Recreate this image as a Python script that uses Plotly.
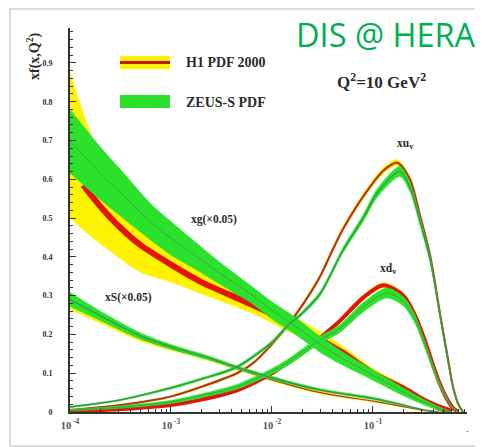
import plotly.graph_objects as go

W, H = 483, 447          # browser window
OFF = 8                  # default page body margin
FW, FH = W - OFF, H - OFF  # figure size so the page fits the window exactly

# ---------------- data ----------------
# gluon xg (x0.05) - ZEUS-S band
zeus_g_x = [1e-4, 2e-4, 3.16e-4, 6.3e-4, 1e-3, 2e-3, 3.16e-3, 6.3e-3, 1e-2, 1.58e-2, 3.16e-2, 5e-2, 0.1, 0.2, 0.316, 0.447, 0.6]
zeus_g_c = [0.698, 0.615, 0.565, 0.49, 0.448, 0.392, 0.355, 0.302, 0.262, 0.228, 0.17, 0.138, 0.095, 0.052, 0.026, 0.01, 0.0]
zeus_g_lo = [0.616, 0.547, 0.505, 0.443, 0.405, 0.359, 0.327, 0.280, 0.240, 0.206, 0.150, 0.121, 0.082, 0.042, 0.019, 0.006, 0.0]
zeus_g_hi = [0.780, 0.683, 0.625, 0.537, 0.491, 0.425, 0.383, 0.324, 0.284, 0.250, 0.190, 0.155, 0.108, 0.062, 0.033, 0.014, 0.001]

# gluon - H1 PDF 2000 band and central line
h1_g_x = [1e-4, 1.58e-4, 2.5e-4, 5e-4, 1e-3, 2e-3, 6.3e-3, 1.58e-2, 3.16e-2, 5e-2, 0.1, 0.2, 0.316, 0.447, 0.6]
h1_g_lo = [0.50, 0.455, 0.415, 0.36, 0.335, 0.305, 0.255, 0.203, 0.163, 0.136, 0.088, 0.05, 0.022, 0.006, 0.0]
h1_g_hi = [0.875, 0.72, 0.60, 0.50, 0.43, 0.37, 0.30, 0.248, 0.203, 0.17, 0.112, 0.07, 0.036, 0.016, 0.001]
h1_g_cx = [1.35e-4, 2e-4, 3.16e-4, 5e-4, 1e-3, 2e-3, 6.3e-3, 1.58e-2, 3.16e-2, 5e-2, 0.1, 0.2, 0.316, 0.447, 0.6]
h1_g_c = [0.585, 0.53, 0.475, 0.43, 0.38, 0.335, 0.277, 0.226, 0.183, 0.153, 0.10, 0.06, 0.03, 0.012, 0.0]

# sea xS (x0.05)
sea_x = [1e-4, 2e-4, 4.9e-4, 1e-3, 2.4e-3, 4.5e-3, 1e-2, 3e-2, 0.1, 0.2, 0.3, 0.45]
zeus_s_c = [0.29, 0.248, 0.197, 0.168, 0.139, 0.115, 0.088, 0.057, 0.035, 0.018, 0.007, 0.0]
zeus_s_lo = [0.272, 0.236, 0.189, 0.162, 0.134, 0.111, 0.084, 0.054, 0.032, 0.016, 0.006, 0.0]
zeus_s_hi = [0.308, 0.260, 0.205, 0.174, 0.144, 0.119, 0.092, 0.060, 0.038, 0.020, 0.008, 0.001]
h1_s_c = [0.278, 0.238, 0.19, 0.164, 0.136, 0.112, 0.083, 0.05, 0.028, 0.014, 0.005, 0.0]
h1_s_lo = [0.265, 0.229, 0.184, 0.159, 0.132, 0.109, 0.080, 0.047, 0.026, 0.012, 0.004, 0.0]
h1_s_hi = [0.291, 0.247, 0.196, 0.169, 0.140, 0.115, 0.086, 0.053, 0.030, 0.016, 0.006, 0.001]

# valence xu_v
zeus_u_x = [1e-4, 3e-4, 1e-3, 2e-3, 4.5e-3, 1e-2, 1.4e-2, 2e-2, 3e-2, 5e-2, 8e-2, 0.11, 0.184, 0.232, 0.29, 0.37, 0.46, 0.55, 0.62, 0.7, 0.78]
zeus_u_c = [0.013, 0.03, 0.062, 0.085, 0.116, 0.18, 0.22, 0.255, 0.305, 0.415, 0.50, 0.564, 0.62, 0.58, 0.495, 0.39, 0.25, 0.135, 0.065, 0.02, 0.0]
zeus_u_hw = [0.002, 0.002, 0.003, 0.003, 0.004, 0.004, 0.005, 0.005, 0.006, 0.007, 0.009, 0.011, 0.013, 0.012, 0.011, 0.009, 0.007, 0.005, 0.003, 0.002, 0.001]
h1_u_x = [1e-4, 3e-4, 1e-3, 2e-3, 4.5e-3, 6.5e-3, 1e-2, 1.5e-2, 2.4e-2, 3e-2, 5e-2, 9.3e-2, 0.13, 0.173, 0.232, 0.29, 0.37, 0.46, 0.55, 0.62, 0.7, 0.78]
h1_u_c = [0.005, 0.017, 0.04, 0.065, 0.10, 0.126, 0.175, 0.23, 0.307, 0.35, 0.47, 0.58, 0.625, 0.643, 0.60, 0.51, 0.40, 0.255, 0.14, 0.065, 0.02, 0.0]
h1_u_hw = [0.001, 0.002, 0.002, 0.003, 0.003, 0.003, 0.004, 0.004, 0.005, 0.005, 0.006, 0.007, 0.008, 0.008, 0.008, 0.007, 0.006, 0.005, 0.004, 0.003, 0.002, 0.001]

# valence xd_v
zeus_d_x = [1e-4, 3e-4, 1e-3, 2e-3, 4.5e-3, 1e-2, 1.4e-2, 3e-2, 4.7e-2, 8e-2, 0.137, 0.2, 0.26, 0.32, 0.4, 0.46, 0.55, 0.62, 0.7]
zeus_d_c = [0.005, 0.012, 0.026, 0.042, 0.065, 0.105, 0.126, 0.186, 0.215, 0.27, 0.307, 0.285, 0.24, 0.18, 0.11, 0.07, 0.03, 0.01, 0.0]
zeus_d_hw = [0.002, 0.003, 0.004, 0.005, 0.006, 0.007, 0.008, 0.009, 0.010, 0.012, 0.013, 0.012, 0.011, 0.009, 0.007, 0.005, 0.003, 0.002, 0.001]
h1_d_x = [1e-4, 3e-4, 1e-3, 2e-3, 4.5e-3, 1e-2, 1.4e-2, 2.2e-2, 3.3e-2, 4.7e-2, 8e-2, 0.126, 0.2, 0.26, 0.32, 0.4, 0.46, 0.55, 0.62, 0.7]
h1_d_c = [0.002, 0.007, 0.018, 0.032, 0.056, 0.10, 0.125, 0.16, 0.20, 0.235, 0.295, 0.327, 0.30, 0.25, 0.19, 0.115, 0.072, 0.03, 0.01, 0.0]
h1_d_hw = [0.001, 0.002, 0.002, 0.003, 0.003, 0.004, 0.004, 0.005, 0.005, 0.006, 0.007, 0.007, 0.007, 0.006, 0.005, 0.004, 0.003, 0.002, 0.002, 0.001]

x_tick_vals = [1e-4, 1e-3, 1e-2, 1e-1]
x_tick_text = ["10<sup> -4</sup>", "10<sup> -3</sup>", "10<sup> -2</sup>", "10<sup> -1</sup>"]
y_tick_vals = [0, 0.1, 0.2, 0.3, 0.4, 0.5, 0.6, 0.7, 0.8, 0.9]
y_tick_text = ["0", "0.1", "0.2", "0.3", "0.4", "0.5", "0.6", "0.7", "0.8", "0.9"]

legend_labels = ["H1 PDF 2000", "ZEUS-S PDF"]

# ---------------- styles ----------------
YELLOW = "#fff200"
RED = "#e3140c"
BROWN = "#b8361e"
GREEN = "#2be12b"
DKGREEN = "#3f8f55"
SERIF = "Liberation Serif, Times New Roman, serif"

fig = go.Figure()


def band(x, lo, hi, color):
    fig.add_trace(go.Scatter(x=x, y=lo, mode="lines",
                             line=dict(width=0.5, color=color, shape="spline", smoothing=0.8),
                             hoverinfo="skip", showlegend=False))
    fig.add_trace(go.Scatter(x=x, y=hi, mode="lines",
                             line=dict(width=0.5, color=color, shape="spline", smoothing=0.8),
                             fill="tonexty", fillcolor=color, hoverinfo="skip", showlegend=False))


def line(x, y, color, width):
    fig.add_trace(go.Scatter(x=x, y=y, mode="lines",
                             line=dict(width=width, color=color, shape="spline", smoothing=0.8),
                             hoverinfo="skip", showlegend=False))


def pm(c, hw, s):
    return [a + s * b for a, b in zip(c, hw)]


# H1 yellow bands
band(h1_g_x, h1_g_lo, h1_g_hi, YELLOW)
band(sea_x, h1_s_lo, h1_s_hi, YELLOW)
band(h1_u_x, pm(h1_u_c, h1_u_hw, -1), pm(h1_u_c, h1_u_hw, 1), YELLOW)
band(h1_d_x, pm(h1_d_c, h1_d_hw, -1), pm(h1_d_c, h1_d_hw, 1), YELLOW)

# H1 central lines
line(h1_g_cx, h1_g_c, RED, 6)
line(sea_x, h1_s_c, BROWN, 1.2)
line(h1_u_x, h1_u_c, BROWN, 2.2)
line(h1_d_x, h1_d_c, RED, 4)

# ZEUS green bands
band(zeus_g_x, zeus_g_lo, zeus_g_hi, GREEN)
band(sea_x, zeus_s_lo, zeus_s_hi, GREEN)
band(zeus_u_x, pm(zeus_u_c, zeus_u_hw, -1), pm(zeus_u_c, zeus_u_hw, 1), GREEN)
band(zeus_d_x, pm(zeus_d_c, zeus_d_hw, -1), pm(zeus_d_c, zeus_d_hw, 1), GREEN)

# ZEUS central lines
line(zeus_g_x, zeus_g_c, DKGREEN, 0.7)
line(sea_x, zeus_s_c, DKGREEN, 1.2)
line(zeus_u_x, zeus_u_c, DKGREEN, 1.2)
line(zeus_d_x, zeus_d_c, DKGREEN, 0.7)


def px(v):
    """window pixel x -> paper fraction"""
    return (v - OFF) / FW


def py(v):
    """window pixel y -> paper fraction"""
    return 1 - (v - OFF) / FH


shapes = [
    # card border
    dict(type="rect", xref="paper", yref="paper", x0=px(10), x1=px(481), y0=py(446), y1=py(9),
         line=dict(color="#d0d0d0", width=1.5), fillcolor="white", layer="below"),
    # legend swatches
    dict(type="rect", xref="paper", yref="paper", x0=px(120), x1=px(170), y0=py(69), y1=py(56),
         line=dict(width=0), fillcolor=YELLOW),
    dict(type="line", xref="paper", yref="paper", x0=px(120), x1=px(170), y0=py(62.5), y1=py(62.5),
         line=dict(color="#c0180c", width=3)),
    dict(type="rect", xref="paper", yref="paper", x0=px(120), x1=px(170), y0=py(108), y1=py(95),
         line=dict(width=0), fillcolor=GREEN),
]

TXT = "#2a2a2a"
annotations = [
    dict(text=legend_labels[0], x=px(184), y=py(63), xanchor="left", yanchor="middle",
         font=dict(family=SERIF, size=14, color=TXT, weight="bold")),
    dict(text=legend_labels[1], x=px(184), y=py(102), xanchor="left", yanchor="middle",
         font=dict(family=SERIF, size=14, color=TXT, weight="bold")),
    dict(text="Q<sup>2</sup>=10 GeV<sup>2</sup>", x=px(381), y=py(81), xanchor="center", yanchor="middle",
         font=dict(family=SERIF, size=17, color=TXT, weight="bold")),
    dict(text="DIS @ HERA", x=px(386), y=py(34), xanchor="center", yanchor="middle",
         font=dict(family="Open Sans, Noto Sans, sans-serif", size=32.5, color="#00b050")),
    dict(text="xg(×0.05)", x=px(214), y=py(220), xanchor="center", yanchor="middle",
         font=dict(family=SERIF, size=11.5, color=TXT, weight="bold")),
    dict(text="xS(×0.05)", x=px(128), y=py(297), xanchor="center", yanchor="middle",
         font=dict(family=SERIF, size=11.5, color=TXT, weight="bold")),
    dict(text="xu<sub>v</sub>", x=px(405), y=py(144), xanchor="center", yanchor="middle",
         font=dict(family=SERIF, size=11.5, color=TXT, weight="bold")),
    dict(text="xd<sub>v</sub>", x=px(388), y=py(269), xanchor="center", yanchor="middle",
         font=dict(family=SERIF, size=11.5, color=TXT, weight="bold")),
    dict(text="xf(x,Q<sup>2</sup>)", x=px(33), y=py(56), xanchor="center", yanchor="middle", textangle=-90,
         font=dict(family=SERIF, size=14, color=TXT, weight="bold")),
    dict(text=".", x=px(467), y=py(428), xanchor="center", yanchor="middle",
         font=dict(family=SERIF, size=11, color="#555")),
]
for a in annotations:
    a.update(xref="paper", yref="paper", showarrow=False)

fig.update_layout(
    width=FW, height=FH,
    margin=dict(l=0, r=0, t=0, b=0, pad=0),
    paper_bgcolor="white", plot_bgcolor="rgba(0,0,0,0)",
    showlegend=False,
    shapes=shapes, annotations=annotations,
    xaxis=dict(
        type="log", range=[-4, -0.069], domain=[px(70), px(467)], automargin=False,
        showgrid=False, zeroline=False, showline=True, linecolor="#333", linewidth=2,
        ticks="inside", ticklen=6, tickwidth=1.2, tickcolor="#333",
        tickmode="array", tickvals=x_tick_vals, ticktext=x_tick_text,
        tickfont=dict(family=SERIF, size=10.5, color="#555", weight="bold"), ticklabelstandoff=2,
        minor=dict(ticks="inside", ticklen=3, tickcolor="#333", showgrid=False,
                   tickmode="array",
                   tickvals=[m * d for d in [1e-4, 1e-3, 1e-2, 1e-1] for m in range(2, 10)]),
    ),
    yaxis=dict(
        range=[0, 0.99], domain=[py(412), py(28)], automargin=False,
        showgrid=False, zeroline=False, showline=True, linecolor="#333", linewidth=2,
        ticks="inside", ticklen=6, tickwidth=1.2, tickcolor="#333",
        tickmode="array", tickvals=y_tick_vals, ticktext=y_tick_text,
        tickfont=dict(family=SERIF, size=8, color="#333", weight="bold"), ticklabelstandoff=14,
        minor=dict(ticks="inside", ticklen=3, tickcolor="#333", dtick=0.02, showgrid=False),
    ),
)

fig.write_html("out.html")
